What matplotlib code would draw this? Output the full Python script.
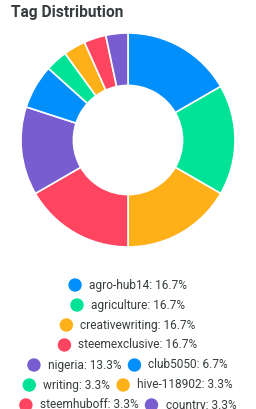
import matplotlib
matplotlib.use("Agg")
import matplotlib.pyplot as plt
from matplotlib.patches import Circle

# Dados do gráfico
tags = ["agro-hub14", "agriculture", "creativewriting", "steemexclusive", "nigeria",
        "club5050", "writing", "hive-118902", "steemhuboff", "country"]
counts = [5, 5, 5, 5, 4, 2, 1, 1, 1, 1]
palette = ["#008FFB", "#00E396", "#FEB019", "#FF4560", "#775DD0"]
legend_rows = [[0], [1], [2], [3], [4, 5], [6, 7], [8, 9]]

W, H = 256, 409
plt.rcParams["font.family"] = ["Roboto", "DejaVu Sans"]
fig = plt.figure(figsize=(W / 100, H / 100), dpi=100)

cores = [palette[i % len(palette)] for i in range(len(tags))]
total = sum(counts)
pct = [c / total * 100 for c in counts]

# Donut
cx, cy, r = 128, 140, 107
ax = fig.add_axes([(cx - r) / W, 1 - (cy + r) / H, 2 * r / W, 2 * r / H])
ax.pie(counts, colors=cores, startangle=90, counterclock=False, radius=1,
       wedgeprops=dict(width=0.49, edgecolor="white", linewidth=1.2))
ax.set_xlim(-1, 1)
ax.set_ylim(-1, 1)
ax.set_aspect("equal")
ax.axis("off")

fig.text(11 / W, 1 - 13 / H, "Tag Distribution", fontsize=11.2, fontweight="bold",
         color="#373d3f", va="center", ha="left")

# Legenda montada manualmente, linhas centralizadas
renderer = fig.canvas.get_renderer()
row_y = [285, 305, 325, 345, 365, 385, 405]
mk, gap, item_gap = 12, 8, 7
for row, yy in zip(legend_rows, row_y):
    labels = [f"{tags[i]}: {pct[i]:.1f}%" for i in row]
    widths = []
    for lab in labels:
        t = fig.text(0, 0, lab, fontsize=8.6)
        widths.append(t.get_window_extent(renderer).width)
        t.remove()
    tot = sum(mk + gap + w for w in widths) + item_gap * (len(row) - 1)
    x = 128 - tot / 2
    for i, lab, w in zip(row, labels, widths):
        fig.patches.append(Circle((x + mk / 2, H - yy), mk / 2, color=cores[i],
                                  transform=None, figure=fig))
        fig.text((x + mk + gap) / W, 1 - yy / H, lab, fontsize=8.6, color="#373d3f",
                 va="center", ha="left")
        x += mk + gap + w + item_gap

fig.savefig("out.png", dpi=100)
